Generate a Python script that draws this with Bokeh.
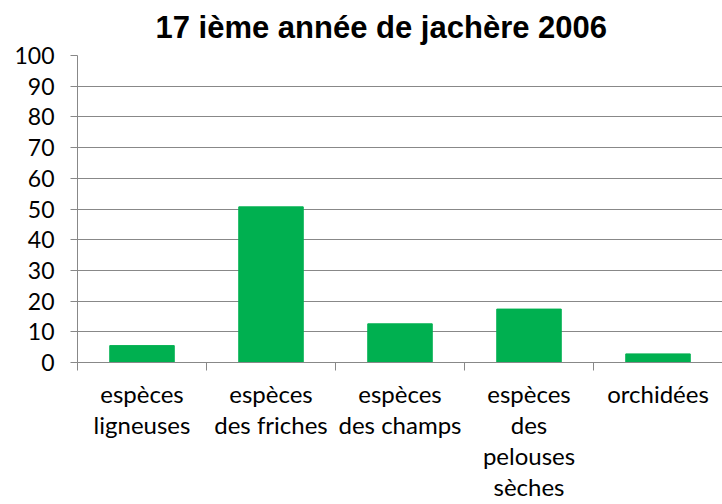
from bokeh.plotting import figure
from bokeh.models import Range1d, FixedTicker, ColumnDataSource
from bokeh.embed import file_html
from bokeh.resources import INLINE

categories = ["espèces\nligneuses", "espèces\ndes friches", "espèces\ndes champs",
              "espèces\ndes\npelouses\nsèches", "orchidées"]
values = [5.5, 50.7, 12.6, 17.4, 2.8]
y_ticks = [0, 10, 20, 30, 40, 50, 60, 70, 80, 90, 100]
title_text = "17 ième année de jachère 2006"

xs = [i + 0.5 for i in range(len(categories))]
src = ColumnDataSource(dict(x=xs, top=values))

p = figure(width=722, height=504, output_backend="svg", toolbar_location=None,
           x_range=Range1d(0, len(categories)), y_range=Range1d(0, 100),
           min_border_left=77, min_border_right=0, min_border_top=55,
           min_border_bottom=142, title=title_text)

p.vbar(x="x", top="top", width=0.5, source=src, color="#00B050")

p.title.text_font = "Liberation Sans"
p.title.text_font_size = "31px"
p.title.text_font_style = "bold"
p.title.text_color = "#000000"
p.title.align = "left"
p.title.vertical_align = "top"
p.title.offset = 78
p.title.standoff = 17

p.outline_line_color = None
p.background_fill_color = "white"

grey = "#888888"
lab_font = "Lato"

p.yaxis.ticker = FixedTicker(ticks=y_ticks)
p.yaxis.axis_line_color = grey
p.yaxis.major_tick_line_color = grey
p.yaxis.major_tick_out = 7
p.yaxis.major_tick_in = 0
p.yaxis.minor_tick_line_color = None
p.yaxis.major_label_standoff = 16
p.yaxis.major_label_text_font = lab_font
p.yaxis.major_label_text_font_size = "23px"
p.yaxis.major_label_text_color = "#000000"

p.xaxis.ticker = FixedTicker(ticks=xs, minor_ticks=list(range(len(categories) + 1)))
p.xaxis.major_label_overrides = {x: c for x, c in zip(xs, categories)}
p.xaxis.axis_line_color = grey
p.xaxis.major_tick_line_color = None
p.xaxis.major_tick_out = 0
p.xaxis.major_tick_in = 0
p.xaxis.minor_tick_line_color = grey
p.xaxis.minor_tick_out = 8
p.xaxis.minor_tick_in = 0
p.xaxis.major_label_standoff = 8
p.xaxis.major_label_text_font = lab_font
p.xaxis.major_label_text_font_size = "24px"
p.xaxis.major_label_text_color = "#000000"
p.xaxis.major_label_text_line_height = 1.08

p.xgrid.grid_line_color = None
p.ygrid.grid_line_color = grey
p.ygrid.ticker = FixedTicker(ticks=y_ticks)

open("out.html", "w").write(file_html(p, INLINE))
